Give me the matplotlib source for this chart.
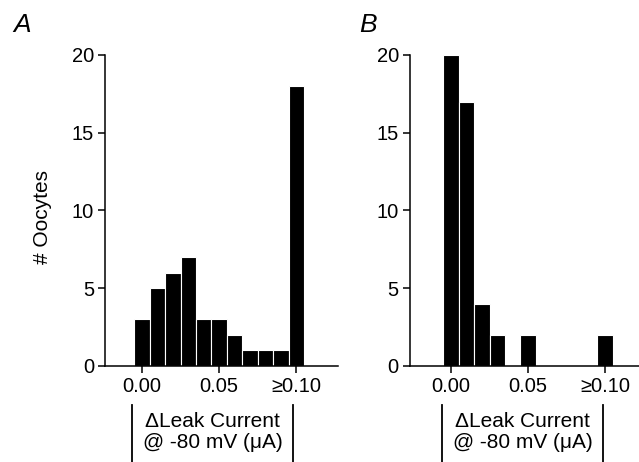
import numpy as np
import matplotlib
matplotlib.use("Agg")
import matplotlib.pyplot as plt
from matplotlib.lines import Line2D

plt.rcParams['font.family'] = ['Liberation Sans', 'DejaVu Sans']

# bin centres (uA), last bin is ">=0.10"
bins = [0.00, 0.01, 0.02, 0.03, 0.04, 0.05, 0.06, 0.07, 0.08, 0.09, 0.10]
counts_a = [3, 5, 6, 7, 3, 3, 2, 1, 1, 1, 18]
counts_b = [20, 17, 4, 2, 0, 2, 0, 0, 0, 0, 2]
xticks = [0.00, 0.05, 0.10]
xtick_labels = ["0.00", "0.05", "\u22650.10"]
yticks = [0, 5, 10, 15, 20]
panels = ["A", "B"]

fig = plt.figure(figsize=(6.39, 4.62), dpi=100)
ax_a = fig.add_axes([0.1643, 0.2078, 0.3646, 0.6732])
ax_b = fig.add_axes([0.6416, 0.2078, 0.3584, 0.6732])


def draw_hist(ax, counts, xlim, bar_l, bar_r):
    ax.bar(bins, counts, width=0.01, color='black', edgecolor='white',
           linewidth=0.8, align='center')
    ax.set_xlim(*xlim)
    ax.set_ylim(0, 20)
    ax.set_xticks(xticks)
    ax.set_xticklabels(xtick_labels)
    ax.set_yticks(yticks)
    for s in ['top', 'right']:
        ax.spines[s].set_visible(False)
    for s in ['left', 'bottom']:
        ax.spines[s].set_linewidth(1.1)
    ax.tick_params(direction='out', length=5, width=1.1, labelsize=14.5, pad=3)
    ax.patch.set_alpha(0)
    # label with absolute-value bars
    mid = (bar_l + bar_r) / 2
    ax.text(mid, -0.18, "\u0394Leak Current", transform=ax.transAxes,
            ha='center', va='center', fontsize=15)
    ax.text(mid, -0.245, "@ -80 mV (\u03bcA)", transform=ax.transAxes,
            ha='center', va='center', fontsize=15)
    for xb in (bar_l, bar_r):
        ax.add_line(Line2D([xb, xb], [-0.125, -0.31], transform=ax.transAxes,
                           color='black', lw=1.3, clip_on=False))


draw_hist(ax_a, counts_a, (-0.024, 0.127), 0.118, 0.805)
draw_hist(ax_b, counts_b, (-0.0266, 0.122), 0.14, 0.843)

fig.text(0.066, 0.53, "# Oocytes", rotation=90, ha='center', va='center', fontsize=15)
fig.text(0.034, 0.945, panels[0], style='italic', ha='center', va='center', fontsize=19)
fig.text(0.576, 0.945, panels[1], style='italic', ha='center', va='center', fontsize=19)

fig.savefig("out.png", dpi=100)
